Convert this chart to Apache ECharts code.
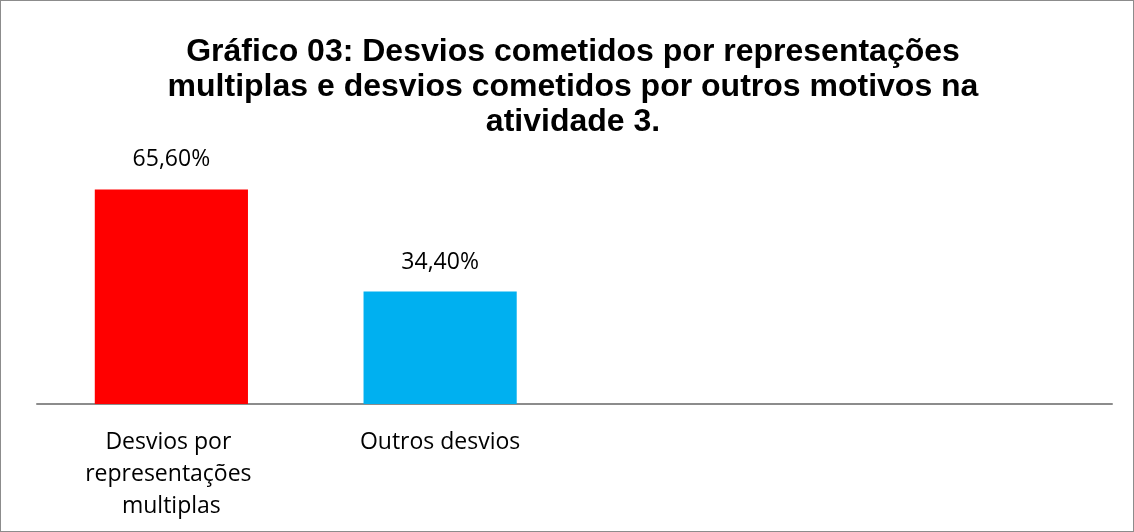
<!DOCTYPE html>
<html><head><meta charset="utf-8">
<script src="https://cdn.jsdelivr.net/npm/echarts@6/dist/echarts.min.js"></script>
<style>
html,body{margin:0;padding:0;background:#fff;}
#c{width:1134px;height:532px;box-sizing:border-box;border:1px solid #8c8c8c;}
</style></head>
<body><div id="c"></div>
<script>
const titleText = "Gráfico 03: Desvios cometidos por representações\nmultiplas e desvios cometidos por outros motivos na\natividade 3.";
const categories = ["Desvios por representações multiplas", "Outros desvios", "", ""];
const values = [65.6, 34.4, null, null];
const barColors = ["#ff0000", "#00b0f0", "#ff0000", "#00b0f0"];

const chart = echarts.init(document.getElementById('c'), null, {renderer: 'canvas'});
chart.setOption({
  animation: false,
  title: {
    text: titleText,
    left: 567,
    textAlign: 'center',
    top: 29,
    textStyle: {fontFamily: 'Liberation Sans', fontWeight: 'bold', fontSize: 32, lineHeight: 35, color: '#000'}
  },
  grid: {left: 36, right: 21, top: 174, bottom: 127, containLabel: false},
  xAxis: {
    type: 'category',
    data: categories,
    axisLine: {lineStyle: {color: '#8c8c8c', width: 2}},
    axisTick: {show: false},
    axisLabel: {
      interval: 0,
      margin: 22,
      width: 200,
      overflow: 'break',
      fontFamily: 'Open Sans',
      fontSize: 23,
      lineHeight: 32,
      color: '#000'
    }
  },
  yAxis: {
    type: 'value', min: 0, max: 70,
    show: false,
    splitLine: {show: false}
  },
  series: [{
    type: 'bar',
    barWidth: '57%',
    data: values.map((v, i) => ({value: v, itemStyle: {color: barColors[i]}})),
    label: {
      show: true,
      position: 'top',
      distance: 18,
      fontFamily: 'Open Sans',
      fontSize: 23,
      color: '#000',
      formatter: p => p.value.toFixed(2).replace('.', ',') + '%'
    }
  }]
});
</script></body></html>
